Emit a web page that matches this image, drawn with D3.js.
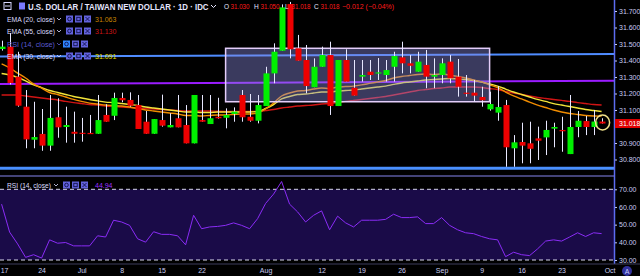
<!DOCTYPE html>
<html>
<head>
<meta charset="utf-8">
<script src="https://cdn.jsdelivr.net/npm/d3@7"></script>
<style>
  body { margin: 0; background: #000; }
  svg { display: block; font-family: "Liberation Sans", Arial, sans-serif; }
</style>
</head>
<body>
<svg id="chart"></svg>
<script>
var width = 640;
var height = 276;
var axisX = 614;
var paneSplit = 176;
var xAxisY = 264;

// trading days, 2019-06-17 .. 2019-09-30
var dates = ["06-17","06-18","06-19","06-20","06-21","06-24","06-25","06-26","06-27","06-28",
  "07-01","07-02","07-03","07-04","07-05","07-08","07-09","07-10","07-11","07-12",
  "07-15","07-16","07-17","07-18","07-19","07-22","07-23","07-24","07-25","07-26",
  "07-29","07-30","07-31","08-01","08-02","08-05","08-06","08-07","08-08","08-09",
  "08-12","08-13","08-14","08-15","08-16","08-19","08-20","08-21","08-22","08-23",
  "08-26","08-27","08-28","08-29","08-30","09-02","09-03","09-04","09-05","09-06",
  "09-09","09-10","09-11","09-12","09-13","09-16","09-17","09-18","09-19","09-20",
  "09-23","09-24","09-25","09-26","09-27","09-30"];

var open = [31.470,31.484,31.302,31.120,30.920,30.955,30.884,31.056,30.997,30.968,
  30.962,30.961,30.956,31.070,31.065,31.173,31.161,31.130,31.029,30.956,
  31.039,30.995,31.050,31.009,30.898,31.039,31.015,31.059,31.053,31.076,
  31.191,31.059,31.035,31.124,31.322,31.459,31.742,31.474,31.403,31.238,
  31.362,31.433,31.124,31.403,31.235,31.302,31.332,31.324,31.312,31.362,
  31.419,31.383,31.332,31.373,31.302,31.312,31.393,31.302,31.205,31.205,
  31.179,31.104,31.084,31.130,30.868,30.906,30.898,30.928,30.934,30.987,
  30.979,30.833,30.997,31.033,30.997,31.030];
var high = [31.520,31.567,31.453,31.221,31.150,31.106,31.191,31.171,31.120,31.090,
  31.052,31.070,31.191,31.135,31.205,31.205,31.207,31.191,31.094,31.045,
  31.193,31.080,31.191,31.130,31.191,31.191,31.191,31.174,31.110,31.116,
  31.221,31.197,31.191,31.362,31.504,31.740,31.755,31.555,31.494,31.413,
  31.484,31.514,31.403,31.468,31.403,31.403,31.403,31.415,31.403,31.453,
  31.514,31.433,31.453,31.464,31.413,31.413,31.433,31.409,31.312,31.282,
  31.241,31.211,31.245,31.161,30.948,31.023,31.029,30.999,31.035,31.023,
  31.059,31.191,31.094,31.064,31.100,31.050];
var low = [31.460,31.255,31.120,30.868,30.868,30.853,30.853,30.932,30.902,30.902,
  30.908,30.955,30.956,31.029,31.039,31.147,31.120,30.985,30.956,30.956,
  30.999,30.995,30.995,30.898,30.898,31.029,31.015,31.048,30.989,31.029,
  31.029,31.029,31.019,31.124,31.262,31.459,31.413,31.399,31.201,31.238,
  31.362,31.070,31.124,31.272,31.187,31.272,31.282,31.282,31.272,31.272,
  31.322,31.322,31.332,31.232,31.232,31.262,31.262,31.181,31.181,31.150,
  31.120,31.096,31.035,30.756,30.756,30.777,30.777,30.797,30.827,30.874,
  30.847,30.833,30.935,30.948,30.948,31.018];
var close = [31.484,31.264,31.126,30.922,30.936,30.884,31.052,30.995,31.009,30.956,
  30.960,30.956,31.039,31.029,31.173,31.159,31.126,30.985,30.956,31.045,
  31.005,31.009,30.995,30.898,31.191,31.029,31.050,31.050,31.070,31.090,
  31.056,31.035,31.130,31.322,31.453,31.722,31.468,31.399,31.245,31.362,
  31.433,31.124,31.403,31.272,31.187,31.312,31.312,31.328,31.342,31.427,
  31.383,31.368,31.393,31.302,31.312,31.383,31.292,31.241,31.199,31.187,
  31.159,31.136,31.118,30.874,30.904,30.884,30.865,30.914,30.979,30.997,
  30.971,30.997,31.035,30.997,31.030,31.018];

var ema20 = [31.379,31.355,31.324,31.294,31.258,31.233,31.206,31.194,31.179,31.164,
  31.152,31.142,31.136,31.130,31.127,31.124,31.118,31.109,31.100,31.094,
  31.088,31.082,31.076,31.067,31.067,31.064,31.067,31.070,31.070,31.073,
  31.076,31.076,31.082,31.106,31.142,31.185,31.203,31.215,31.218,31.227,
  31.233,31.230,31.239,31.242,31.245,31.252,31.261,31.270,31.279,31.294,
  31.303,31.309,31.315,31.318,31.315,31.318,31.312,31.303,31.294,31.282,
  31.270,31.252,31.236,31.209,31.185,31.167,31.148,31.130,31.115,31.100,
  31.088,31.079,31.073,31.067,31.064,31.063];
var ema30 = [31.321,31.312,31.297,31.276,31.252,31.236,31.218,31.206,31.194,31.182,
  31.173,31.164,31.155,31.148,31.145,31.139,31.133,31.127,31.118,31.112,
  31.106,31.100,31.094,31.088,31.088,31.085,31.085,31.088,31.088,31.088,
  31.088,31.088,31.091,31.109,31.133,31.167,31.182,31.194,31.197,31.203,
  31.209,31.209,31.215,31.218,31.221,31.227,31.233,31.239,31.245,31.255,
  31.264,31.270,31.276,31.282,31.285,31.288,31.291,31.288,31.285,31.279,
  31.270,31.258,31.245,31.227,31.209,31.194,31.179,31.164,31.152,31.139,
  31.130,31.121,31.112,31.103,31.097,31.091];
var ema55 = [31.191,31.191,31.191,31.185,31.179,31.173,31.167,31.161,31.152,31.145,
  31.139,31.133,31.130,31.124,31.121,31.118,31.115,31.112,31.109,31.106,
  31.103,31.100,31.097,31.094,31.094,31.094,31.094,31.092,31.091,31.091,
  31.091,31.091,31.091,31.097,31.103,31.112,31.118,31.124,31.127,31.130,
  31.136,31.139,31.145,31.152,31.158,31.164,31.170,31.176,31.182,31.191,
  31.200,31.209,31.218,31.224,31.230,31.233,31.239,31.239,31.239,31.239,
  31.236,31.230,31.224,31.212,31.203,31.194,31.185,31.176,31.170,31.164,
  31.158,31.152,31.145,31.139,31.133,31.130];

var rsi = [61.6,45.8,39.1,31.5,33.0,31.1,41.4,39.5,39.9,38.0,
  38.0,38.0,43.7,43.0,52.5,51.5,49.6,42.0,40.1,46.0,
  44.5,44.5,43.7,38.6,55.3,47.7,48.7,49.0,49.6,51.0,
  49.6,47.7,53.4,62.0,67.3,74.4,61.6,57.2,51.5,55.3,
  57.8,47.1,54.8,51.0,48.7,52.5,52.5,52.5,53.0,55.9,
  54.0,54.0,54.4,50.6,50.6,54.0,49.6,47.1,45.4,44.9,
  43.3,42.0,41.4,31.9,34.4,33.0,32.5,36.3,40.7,41.4,
  40.7,43.0,45.4,43.3,45.4,44.94];

// 31.000 sits under the last-price tag
var priceTicks = [31.7,31.6,31.5,31.4,31.3,31.2,31.1,30.9,30.8];
var rsiTicks = [70,60,50,40,30];
var tickIndex = [0,5,10,15,20,25,33,40,45,50,55,60,65,70,76];
var tickLabels = ["17","24","Jul","8","15","22","Aug","12","19","26","Sep","9","16","23","Oct"];

// drawings: price at left edge / right edge
var levelStart = [31.424, 31.257, 30.747];
var levelEnd = [31.439, 31.278, 30.747];
var boxIndex = [28, 61];
var boxPrice = [31.474, 31.150];

var svg = d3.select("#chart")
    .attr("width", width)
    .attr("height", height);

svg.append("rect")
    .attr("width", width)
    .attr("height", height)
    .attr("fill", "#000");

var x = d3.scaleLinear()
    .domain([0, dates.length - 1])
    .range([1.6, 601.6]);

var y = d3.scaleLinear()
    .domain([30.8, 31.7])
    .range([159.5, 11]);

var yRsi = d3.scaleLinear()
    .domain([30, 70])
    .range([260, 189.3]);

svg.append("clipPath").attr("id", "mainClip")
    .append("rect").attr("width", axisX).attr("height", paneSplit);

var main = svg.append("g").attr("clip-path", "url(#mainClip)");

// header text (drawn under the candles)
var head = svg.append("g");
head.append("rect").attr("x", 4).attr("y", 2.5).attr("width", 7).attr("height", 7)
    .attr("fill", "none").attr("stroke", "#d8d8ff").attr("stroke-width", 1);
head.append("line").attr("x1", 5).attr("x2", 10).attr("y1", 6).attr("y2", 6)
    .attr("stroke", "#d8d8ff");
head.append("rect").attr("x", 19).attr("y", 2.5).attr("width", 6).attr("height", 7)
    .attr("fill", "#7a7aff");
// condensed bold title
head.append("text")
    .attr("transform", "translate(28,9.5) scale(0.83,1)")
    .attr("font-size", 9.5).attr("font-weight", "bold")
    .attr("fill", "#e6e6ff")
    .text("U.S. DOLLAR / TAIWAN NEW DOLLAR · 1D · IDC");
head.append("path").attr("d", "M211,5 L213.5,7.5 L216,5")
    .attr("fill", "none").attr("stroke", "#e6e6ff");

var fmt3 = d3.format(".3f");
var last = dates.length - 1;
var chg = close[last] - close[last - 1];
var ohlcItems = [
  { k: "O", v: fmt3(open[last]), at: 224 },
  { k: "H", v: fmt3(high[last]), at: 254 },
  { k: "L", v: fmt3(low[last]), at: 285 },
  { k: "C", v: fmt3(close[last]), at: 314 }
];
ohlcItems.forEach(function(d) {
  head.append("text").attr("x", d.at).attr("y", 9)
      .attr("font-size", 6.5).attr("fill", "#e6e6ff").text(d.k);
  head.append("text").attr("x", d.at + 6.5).attr("y", 9)
      .attr("font-size", 7).attr("fill", "#ff1a1a")
      .attr("textLength", 19).attr("lengthAdjust", "spacingAndGlyphs")
      .text(d.v);
});
head.append("text").attr("x", 342).attr("y", 9).attr("font-size", 7)
    .attr("fill", "#ff1a1a")
    .text("\u2212" + fmt3(Math.abs(chg)) + " (\u2212" + Math.abs(chg / close[last - 1] * 100).toFixed(2) + "%)");

// horizontal drawings
var levelColors = ["#4f8cff", "#9a1cff", "#4a90ff"];
var levelWidths = [2, 2, 3];
levelStart.forEach(function(p, i) {
  main.append("line")
      .attr("x1", 0).attr("x2", axisX)
      .attr("y1", y(p)).attr("y2", y(levelEnd[i]))
      .attr("stroke", levelColors[i])
      .attr("stroke-width", levelWidths[i]);
});

// moving averages
var emaLine = d3.line()
    .x(function(d, i) { return x(i); })
    .y(function(d) { return y(d); })
    .curve(d3.curveMonotoneX);

[[ema55, "#d01414"], [ema30, "#f2e43a"], [ema20, "#f08c00"]].forEach(function(s) {
  main.append("path")
      .datum(s[0])
      .attr("d", emaLine)
      .attr("fill", "none")
      .attr("stroke", s[1])
      .attr("stroke-width", 1.4);
});

// range box
main.append("rect")
    .attr("x", x(boxIndex[0]))
    .attr("y", y(boxPrice[0]))
    .attr("width", x(boxIndex[1]) - x(boxIndex[0]))
    .attr("height", y(boxPrice[1]) - y(boxPrice[0]))
    .attr("fill", "#8a8ae0")
    .attr("fill-opacity", 0.42)
    .attr("stroke", "#e4cdfa")
    .attr("stroke-width", 1.5);

// candles
var candles = main.selectAll(".candle")
    .data(dates)
    .enter().append("g")
    .attr("class", "candle");

candles.append("line")
    .attr("x1", function(d, i) { return Math.round(x(i)) + 0.5; })
    .attr("x2", function(d, i) { return Math.round(x(i)) + 0.5; })
    .attr("y1", function(d, i) { return y(high[i]); })
    .attr("y2", function(d, i) { return y(low[i]); })
    .attr("stroke", "#e8e8ff")
    .attr("stroke-width", 1);

candles.append("rect")
    .attr("x", function(d, i) { return Math.round(x(i)) - 2.5; })
    .attr("width", 6)
    .attr("y", function(d, i) { return y(Math.max(open[i], close[i])); })
    .attr("height", function(d, i) {
      return Math.max(1.2, Math.abs(y(open[i]) - y(close[i])));
    })
    .attr("fill", function(d, i) { return close[i] >= open[i] ? "#00f000" : "#ee0000"; });

// marker round last bar
main.append("ellipse")
    .attr("cx", x(last) + 1).attr("cy", y(close[last]) - 1)
    .attr("rx", 7).attr("ry", 7.5)
    .attr("fill", "none")
    .attr("stroke", "#f1e28a")
    .attr("stroke-width", 1.5);

// legends
function icons(g, gx, gy, first) {
  [0, 1, 2].forEach(function(k) {
    var bx = gx + k * 9;
    g.append("rect").attr("x", bx).attr("y", gy - 3.5).attr("width", 7).attr("height", 7)
        .attr("fill", k === 0 && first ? "#2f86ff" : "#6262dc");
    if (k === 0) {
      g.append("circle").attr("cx", bx + 3.5).attr("cy", gy).attr("r", 1.8)
          .attr("fill", "none").attr("stroke", "#10104a").attr("stroke-width", 0.9);
    } else if (k === 1) {
      g.append("rect").attr("x", bx + 1.8).attr("y", gy - 1.7).attr("width", 3.4).attr("height", 3.4)
          .attr("fill", "none").attr("stroke", "#10104a").attr("stroke-width", 0.9);
    } else {
      g.append("path").attr("d", "M" + (bx + 1.5) + "," + (gy - 2) + " l4,4 m0,-4 l-4,4")
          .attr("stroke", "#10104a").attr("stroke-width", 0.9);
    }
  });
}

var legendNames = ["EMA (20, close)", "EMA (55, close)", "RSI (14, close)", "EMA (30, close)"];
var legendValues = [fmt3(ema20[last]), fmt3(ema55[last]), "", fmt3(ema30[last])];
var legendColors = ["#c98400", "#d01414", "", "#e8e000"];
var legendRows = [19, 31, 44, 56];

var leg = svg.append("g").attr("font-size", 7);
legendNames.forEach(function(name, i) {
  var cy = legendRows[i];
  var dim = name.indexOf("RSI") === 0;
  leg.append("text").attr("x", 7).attr("y", cy + 2.5)
      .attr("fill", dim ? "#5a5ad0" : "#dcdcff")
      .attr("textLength", 48).attr("lengthAdjust", "spacingAndGlyphs")
      .text(name);
  leg.append("path").attr("d", "M57," + (cy - 1) + " l2,2 l2,-2")
      .attr("fill", "none").attr("stroke", dim ? "#5a5ad0" : "#dcdcff").attr("stroke-width", 0.8);
  icons(leg, dim ? 63 : 66, cy, dim);
  if (legendValues[i]) {
    leg.append("text").attr("x", 95).attr("y", cy + 2.5)
        .attr("fill", legendColors[i]).text(legendValues[i]);
  }
});

// separators
svg.append("line")
    .attr("x1", 0).attr("x2", axisX)
    .attr("y1", paneSplit).attr("y2", paneSplit)
    .attr("stroke", "#5a5aa0").attr("stroke-width", 1.5);

// RSI pane
svg.append("rect")
    .attr("x", 0).attr("width", axisX)
    .attr("y", yRsi(70)).attr("height", yRsi(30) - yRsi(70))
    .attr("fill", "#1a0b48");

[70, 30].forEach(function(v) {
  svg.append("line")
      .attr("x1", 0).attr("x2", axisX)
      .attr("y1", yRsi(v)).attr("y2", yRsi(v))
      .attr("stroke", "#d8d8ec").attr("stroke-width", 1)
      .attr("stroke-dasharray", "4,3");
});

svg.append("path")
    .datum(rsi)
    .attr("d", d3.line()
      .x(function(d, i) { return x(i); })
      .y(function(d) { return yRsi(d); }))
    .attr("fill", "none")
    .attr("stroke", "#8a2cf6")
    .attr("stroke-width", 1);

var rsiLeg = svg.append("g").attr("font-size", 7);
rsiLeg.append("text").attr("x", 7).attr("y", 187.5).attr("fill", "#dcdcff")
    .attr("textLength", 44).attr("lengthAdjust", "spacingAndGlyphs")
    .text("RSI (14, close)");
rsiLeg.append("path").attr("d", "M54,184 l2,2 l2,-2")
    .attr("fill", "none").attr("stroke", "#dcdcff").attr("stroke-width", 0.8);
icons(rsiLeg, 63, 185, false);
rsiLeg.append("text").attr("x", 95).attr("y", 187.5).attr("fill", "#9b30ff")
    .text(d3.format(".2f")(rsi[last]));

// price axis
svg.append("line")
    .attr("x1", axisX + 0.5).attr("x2", axisX + 0.5)
    .attr("y1", 0).attr("y2", xAxisY)
    .attr("stroke", "#5c6cf0").attr("stroke-width", 1.5);

var yAxis = svg.append("g")
    .attr("transform", "translate(" + (axisX + 1) + ",0)")
    .call(d3.axisRight(y).tickValues(priceTicks).tickFormat(fmt3).tickSize(2).tickPadding(2));

var rAxis = svg.append("g")
    .attr("transform", "translate(" + (axisX + 1) + ",0)")
    .call(d3.axisRight(yRsi).tickValues(rsiTicks).tickFormat(d3.format(".2f")).tickSize(2).tickPadding(2));

[yAxis, rAxis].forEach(function(a) {
  a.select(".domain").remove();
  a.selectAll(".tick line").attr("stroke", "#c4c8f0");
  a.selectAll(".tick text")
      .attr("fill", "#c8ccf2")
      .attr("font-size", 7)
      .attr("font-family", "Liberation Sans, Arial, sans-serif");
});

// last price tag
svg.append("rect")
    .attr("x", axisX + 1).attr("y", y(close[last]) - 4.5)
    .attr("width", width - axisX - 1).attr("height", 9)
    .attr("fill", "#e00000");
svg.append("text")
    .attr("x", axisX + 5).attr("y", y(close[last]) + 2.5)
    .attr("font-size", 7).attr("fill", "#ffffff")
    .text(fmt3(close[last]));

// time axis
svg.append("line")
    .attr("x1", 0).attr("x2", width)
    .attr("y1", xAxisY).attr("y2", xAxisY)
    .attr("stroke", "#3c3c5c").attr("stroke-width", 1);

var xAxis = svg.append("g")
    .attr("transform", "translate(0," + xAxisY + ")")
    .call(d3.axisBottom(x)
      .tickValues(tickIndex)
      .tickFormat(function(d, i) { return tickLabels[i]; })
      .tickSize(0)
      .tickPadding(4));
xAxis.select(".domain").remove();
xAxis.selectAll(".tick text")
    .attr("fill", "#c8ccf2")
    .attr("font-size", 7)
    .attr("font-family", "Liberation Sans, Arial, sans-serif");
// first label would be cut by the left edge
xAxis.select(".tick text").attr("text-anchor", "start").attr("x", -1.4);

svg.append("circle")
    .attr("cx", 627).attr("cy", 271).attr("r", 5)
    .attr("fill", "#30309a");
svg.append("text")
    .attr("x", 627).attr("y", 273.5)
    .attr("text-anchor", "middle")
    .attr("font-size", 7).attr("fill", "#c8ccff")
    .text("A");
</script>
</body>
</html>
